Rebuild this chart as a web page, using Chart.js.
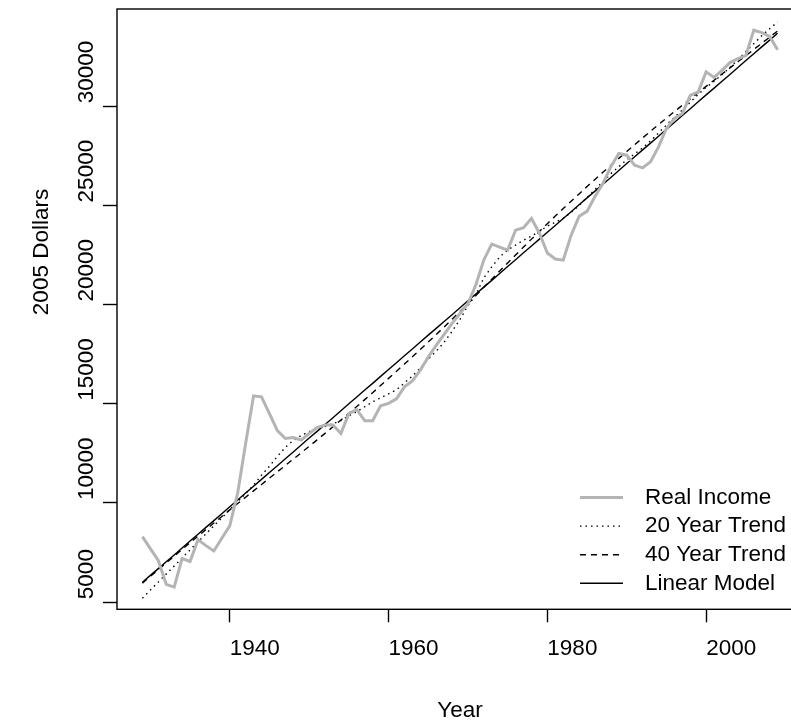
<!DOCTYPE html>
<html>
<head>
<meta charset="utf-8">
<script src="https://cdn.jsdelivr.net/npm/chart.js@4.4.1/dist/chart.umd.min.js"></script>
<style>
  html, body { margin: 0; padding: 0; background: #ffffff; overflow: hidden; }
  #wrap { width: 810px; height: 723px; }
</style>
</head>
<body>
<div id="wrap"><canvas id="c" width="810" height="723"></canvas></div>
<script>
// ---- data ----
const years = [1929,1930,1931,1932,1933,1934,1935,1936,1937,1938,1939,
  1940,1941,1942,1943,1944,1945,1946,1947,1948,1949,
  1950,1951,1952,1953,1954,1955,1956,1957,1958,1959,
  1960,1961,1962,1963,1964,1965,1966,1967,1968,1969,
  1970,1971,1972,1973,1974,1975,1976,1977,1978,1979,
  1980,1981,1982,1983,1984,1985,1986,1987,1988,1989,
  1990,1991,1992,1993,1994,1995,1996,1997,1998,1999,
  2000,2001,2002,2003,2004,2005,2006,2007,2008,2009];

const realIncome = [8300,7700,7100,5900,5760,7200,7050,8150,7850,7580,8220,
  8850,10500,13000,15400,15350,14500,13650,13250,13300,13170,
  13500,13800,13930,13930,13500,14500,14700,14150,14150,14900,
  15020,15250,15850,16150,16700,17350,17950,18500,19050,19550,
  20050,21000,22250,23050,22900,22750,23750,23880,24340,23600,
  22600,22300,22240,23500,24450,24700,25450,26100,26950,27620,
  27530,27030,26890,27200,27950,28880,29380,29630,30550,30720,
  31730,31450,31810,32200,32400,32550,33830,33710,33520,32850];

const trend20 = [5200,5610,6010,6420,6820,7230,7630,8040,8440,8850,9250,
  9660,10060,10470,10900,11400,11850,12350,12800,13150,13400,
  13600,13750,13850,14000,14150,14400,14600,14850,15100,15300,
  15500,15700,16050,16400,16800,17250,17650,18100,18650,19250,
  19950,20500,21350,21900,22400,22750,23000,23250,23450,23700,
  23950,24150,24350,24650,25000,25400,25800,26200,26600,26950,
  27300,27600,27900,28250,28650,29050,29450,29800,30200,30600,
  30950,31250,31600,31950,32350,32750,33150,33550,33900,34250];

const trend40 = [5960,6300,6640,6980,7320,7660,8000,8330,8660,8990,9320,
  9650,9970,10290,10610,10930,11250,11570,11890,12210,12530,
  12850,13180,13510,13840,14180,14520,14860,15210,15560,15920,
  16280,16640,17000,17370,17740,18110,18490,18870,19260,19650,
  20050,20460,20870,21280,21690,22100,22500,22900,23300,23690,
  24080,24460,24840,25210,25580,25950,26310,26670,27020,27370,
  27720,28060,28400,28740,29070,29400,29730,30050,30370,30690,
  31000,31310,31620,31930,32240,32550,32860,33170,33480,33790];

const linearModel = [6000,6350,6690,7040,7380,7730,8080,8420,8770,9110,9460,
  9810,10150,10500,10840,11190,11540,11880,12230,12570,12920,
  13270,13610,13960,14300,14650,15000,15340,15690,16030,16380,
  16730,17070,17420,17760,18110,18460,18800,19150,19490,19840,
  20190,20530,20880,21220,21570,21920,22260,22610,22950,23300,
  23650,23990,24340,24680,25030,25380,25720,26070,26410,26760,
  27110,27450,27800,28140,28490,28840,29180,29530,29870,30220,
  30570,30910,31260,31600,31950,32300,32640,32990,33330,33680];

const seriesLabels = ['Real Income','20 Year Trend','40 Year Trend','Linear Model'];
const xTickValues = [1940,1960,1980,2000];
const yTickValues = [5000,10000,15000,20000,25000,30000];
const xTitle = 'Year';
const yTitle = '2005 Dollars';

// ---- chart ----
const FONT = { family: '"Liberation Sans", Arial, Helvetica, sans-serif', size: 22.5 };
const fontStr = () => FONT.size + 'px ' + FONT.family;
const toPts = (vals) => vals.map((v, i) => ({ x: years[i], y: v }));

const frame = {
  id: 'frame',
  afterDraw(chart) {
    const a = chart.chartArea, ctx = chart.ctx;
    ctx.save();
    ctx.strokeStyle = '#000';
    ctx.lineWidth = 1.4;
    ctx.strokeRect(a.left, a.top, a.right - a.left, a.bottom - a.top);
    ctx.restore();
  }
};

// y-axis title: rotated text starting near the vertical middle of the plot box
const yTitlePlugin = {
  id: 'yTitlePlugin',
  afterDraw(chart) {
    const a = chart.chartArea, ctx = chart.ctx;
    const t = chart.options.scales.y.title;
    ctx.save();
    ctx.fillStyle = '#000';
    ctx.font = fontStr();
    ctx.textAlign = 'left';
    ctx.textBaseline = 'middle';
    ctx.translate(42, (a.top + a.bottom) / 2 + 6);
    ctx.rotate(-Math.PI / 2);
    ctx.fillText(t.text, 0, 0);
    ctx.restore();
  }
};

const boxLegend = {
  id: 'boxLegend',
  afterDraw(chart) {
    const ctx = chart.ctx;
    const x1 = 580, x2 = 623, tx = 645, top = 497.5, rowH = 28.6;
    chart.data.datasets.forEach((ds, i) => {
      const y = top + i * rowH;
      ctx.save();
      ctx.strokeStyle = ds.borderColor;
      ctx.lineWidth = ds.borderWidth;
      ctx.setLineDash(ds.borderDash || []);
      ctx.beginPath();
      ctx.moveTo(x1, y);
      ctx.lineTo(x2, y);
      ctx.stroke();
      ctx.restore();
      ctx.save();
      ctx.fillStyle = '#000';
      ctx.font = fontStr();
      ctx.textBaseline = 'middle';
      ctx.textAlign = 'left';
      ctx.fillText(ds.label, tx, y);
      ctx.restore();
    });
  }
};

new Chart(document.getElementById('c'), {
  type: 'line',
  data: {
    datasets: [
      { label: seriesLabels[0], data: toPts(realIncome), borderColor: '#b4b4b4', borderWidth: 3, borderDash: [] },
      { label: seriesLabels[1], data: toPts(trend20), borderColor: '#000', borderWidth: 1.4, borderDash: [1.5, 4] },
      { label: seriesLabels[2], data: toPts(trend40), borderColor: '#000', borderWidth: 1.4, borderDash: [6, 5] },
      { label: seriesLabels[3], data: toPts(linearModel), borderColor: '#000', borderWidth: 1.4, borderDash: [] }
    ]
  },
  options: {
    responsive: false,
    animation: false,
    devicePixelRatio: 1,
    layout: { padding: { left: 20, top: 9, right: 7, bottom: 0 } },
    elements: { point: { radius: 0 }, line: { tension: 0, fill: false } },
    plugins: { legend: { display: false }, tooltip: { enabled: false } },
    scales: {
      x: {
        type: 'linear', min: 1925.8, max: 2012.2,
        afterBuildTicks: (s) => { s.ticks = xTickValues.map(v => ({ value: v })); },
        afterFit: (s) => { s.height = 723 - 609.3; },
        ticks: { align: 'start', autoSkip: false, maxRotation: 0, font: FONT, color: '#000', padding: 13,
                 callback: (v) => String(v) },
        grid: { drawOnChartArea: false, drawTicks: true, tickLength: 13, tickColor: '#000', tickWidth: 1.4 },
        border: { display: false },
        title: { display: true, text: xTitle, font: FONT, color: '#000', padding: { top: 0, bottom: -1.5 } }
      },
      y: {
        type: 'linear', min: 4640, max: 34900,
        afterBuildTicks: (s) => { s.ticks = yTickValues.map(v => ({ value: v })); },
        afterFit: (s) => { s.width = 117 - 20; },
        ticks: { mirror: true, crossAlign: 'near', padding: -30, minRotation: 90, maxRotation: 90, autoSkip: false,
                 font: FONT, color: '#000', labelOffset: -3, callback: (v) => String(v) },
        grid: { drawOnChartArea: false, drawTicks: true, tickLength: 14, tickColor: '#000', tickWidth: 1.4 },
        border: { display: false },
        title: { display: false, text: yTitle, font: FONT, color: '#000' }
      }
    }
  },
  plugins: [frame, yTitlePlugin, boxLegend]
});
</script>
</body>
</html>
